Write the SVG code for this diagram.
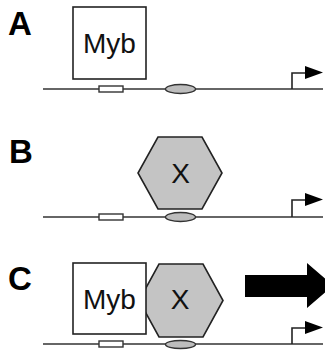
<svg xmlns="http://www.w3.org/2000/svg" width="325" height="352" viewBox="0 0 325 352">
  <style>
    .panel { font-family: "Liberation Sans", Arial, sans-serif; font-weight: bold; font-size: 33px; fill: #000; }
    .lbl { font-family: "Liberation Sans", Arial, sans-serif; font-size: 28px; fill: #111; text-anchor: middle; }
    .dna { stroke: #333; stroke-width: 1.6; fill: none; }
    .site { fill: #fff; stroke: #333; stroke-width: 1.4; }
    .nuc { fill: #bdbdbd; stroke: #333; stroke-width: 1.4; }
    .myb { fill: #fff; stroke: #222; stroke-width: 1.6; }
    .hex { fill: #c4c4c4; stroke: #222; stroke-width: 1.6; }
    .tss { stroke: #222; stroke-width: 1.6; fill: none; }
    .head { fill: #000; }
  </style>
  <rect width="325" height="352" fill="#fff"/>

  <!-- Panel A -->
  <text class="panel" x="8" y="35">A</text>
  <g id="dna-a">
    <line class="dna" x1="43" y1="89" x2="323" y2="89"/>
    <rect class="site" x="99" y="86" width="24" height="6"/>
    <ellipse class="nuc" cx="180.5" cy="89" rx="15" ry="4.5"/>
    <polyline class="tss" points="292,89 292,73 306,73"/>
    <polygon class="head" points="305,66 323,72.5 305,79"/>
  </g>
  <g id="myb-a">
    <rect class="myb" x="73" y="7" width="73" height="72"/>
    <text class="lbl" x="109.5" y="53">Myb</text>
  </g>

  <!-- Panel B -->
  <text class="panel" x="9" y="163">B</text>
  <g id="dna-b">
    <line class="dna" x1="43" y1="217" x2="323" y2="217"/>
    <rect class="site" x="99" y="214" width="24" height="6"/>
    <ellipse class="nuc" cx="180.5" cy="217" rx="15" ry="4.5"/>
    <polyline class="tss" points="292,217 292,200 306,200"/>
    <polygon class="head" points="305,193 323,199.5 305,206"/>
  </g>
  <g id="x-b">
    <polygon class="hex" points="158,137 202,137 222,173 202,209 158,209 138,173"/>
    <text class="lbl" x="180.5" y="183">X</text>
  </g>

  <!-- Panel C -->
  <text class="panel" x="8" y="290">C</text>
  <g id="dna-c">
    <line class="dna" x1="43" y1="344" x2="323" y2="344"/>
    <rect class="site" x="99" y="341" width="24" height="6"/>
    <ellipse class="nuc" cx="180.5" cy="344.5" rx="15" ry="4"/>
    <polyline class="tss" points="292,344 292,328 306,328"/>
    <polygon class="head" points="305,321 323,327.5 305,334"/>
  </g>
  <g id="x-c">
    <polygon class="hex" points="159,264 203,264 223,300.5 203,337 159,337 139,300.5"/>
    <text class="lbl" x="180" y="309">X</text>
  </g>
  <g id="myb-c">
    <rect class="myb" x="73" y="263" width="73" height="71"/>
    <text class="lbl" x="109.5" y="309">Myb</text>
  </g>
  <g id="activation">
    <polygon fill="#000" points="245,275 307,275 307,263 333,285.5 307,308 307,297 245,297"/>
  </g>
</svg>
